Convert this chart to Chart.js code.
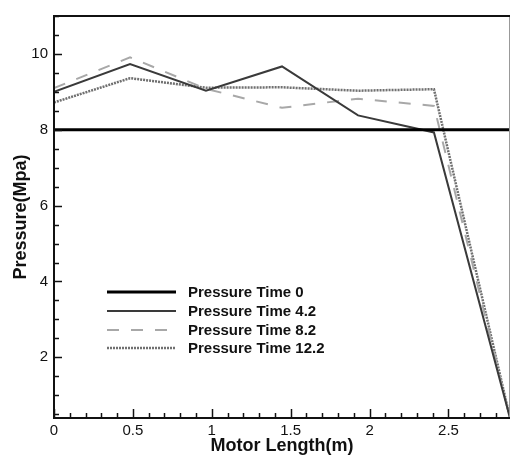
<!DOCTYPE html>
<html>
<head>
<meta charset="utf-8">
<script src="https://cdn.jsdelivr.net/npm/chart.js@4"></script>
<style>
  body { margin: 0; background: #fff; }
  #wrap { width: 511px; height: 455px; }
</style>
</head>
<body>
<div id="wrap"><canvas id="chart" width="511" height="455"></canvas></div>
<script>
// datos
const motorLength = [0, 0.482, 0.963, 1.445, 1.927, 2.408, 2.89];
const pressureT0 = [8, 8, 8, 8, 8, 8, 8];
const pressureT42 = [9.0, 9.73, 9.03, 9.67, 8.38, 7.93, 0.4];
const pressureT82 = [9.1, 9.91, 9.08, 8.58, 8.82, 8.63, 0.4];
const pressureT122 = [8.72, 9.36, 9.11, 9.12, 9.03, 9.07, 0.4];
const seriesNames = ["Pressure Time 0", "Pressure Time 4.2", "Pressure Time 8.2", "Pressure Time 12.2"];
const xLabels = [0, 0.5, 1, 1.5, 2, 2.5];
const yLabels = [2, 4, 6, 8, 10];

function toPoints(arr){
  return motorLength.map((x, i) => ({x: x, y: arr[i]}));
}

const near = (v, list) => list.some(l => Math.abs(v - l) < 1e-6);

// marcas hacia dentro + marco
const framePlugin = {
  id: "frame",
  afterDatasetsDraw(chart){
    const ctx = chart.ctx;
    const a = chart.chartArea;
    const xs = chart.scales.x, ys = chart.scales.y;
    ctx.save();
    ctx.strokeStyle = "#111";
    ctx.lineWidth = 1.5;
    xs.ticks.forEach(t => {
      const px = Math.round(xs.getPixelForValue(t.value)) + 0.5;
      const len = near(t.value, xLabels) ? 9 : 5;
      ctx.beginPath();
      ctx.moveTo(px, a.bottom);
      ctx.lineTo(px, a.bottom - len);
      ctx.stroke();
    });
    ys.ticks.forEach(t => {
      const py = Math.round(ys.getPixelForValue(t.value)) + 0.5;
      const len = near(t.value, yLabels) ? 8 : 5;
      ctx.beginPath();
      ctx.moveTo(a.left, py);
      ctx.lineTo(a.left + len, py);
      ctx.stroke();
    });
    // borde derecho gris
    ctx.strokeStyle = "#999";
    ctx.lineWidth = 1;
    ctx.beginPath();
    ctx.moveTo(a.right - 0.5, a.top);
    ctx.lineTo(a.right - 0.5, a.bottom);
    ctx.stroke();
    // ejes y borde superior
    ctx.strokeStyle = "#111";
    ctx.lineWidth = 2;
    ctx.beginPath();
    ctx.moveTo(a.right, a.top);
    ctx.lineTo(a.left, a.top);
    ctx.lineTo(a.left, a.bottom);
    ctx.lineTo(a.right, a.bottom);
    ctx.stroke();
    ctx.restore();
  }
};

// leyenda dentro del area
const legendPlugin = {
  id: "insideLegend",
  afterDatasetsDraw(chart){
    const ctx = chart.ctx;
    const rows = [292, 311, 330, 348];
    ctx.save();
    chart.data.datasets.forEach((ds, i) => {
      const y = rows[i];
      ctx.strokeStyle = ds.borderColor;
      ctx.lineWidth = ds.borderWidth;
      ctx.setLineDash(ds.borderDash || []);
      ctx.beginPath();
      ctx.moveTo(107, y);
      ctx.lineTo(176, y);
      ctx.stroke();
      ctx.setLineDash([]);
      ctx.fillStyle = "#111";
      ctx.font = "bold 15px 'Liberation Sans', Arial, sans-serif";
      ctx.textBaseline = "middle";
      ctx.textAlign = "left";
      ctx.fillText(ds.label, 188, y + 1);
    });
    ctx.restore();
  }
};

const chart = new Chart(document.getElementById("chart"), {
  type: "line",
  data: {
    datasets: [
      {label: seriesNames[0], data: toPoints(pressureT0), borderColor: "#000", borderWidth: 3},
      {label: seriesNames[1], data: toPoints(pressureT42), borderColor: "#3a3a3a", borderWidth: 2},
      {label: seriesNames[2], data: toPoints(pressureT82), borderColor: "#a8a8a8", borderWidth: 2, borderDash: [12, 12]},
      {label: seriesNames[3], data: toPoints(pressureT122), borderColor: "#707070", borderWidth: 2.5, borderDash: [2, 1]}
    ]
  },
  options: {
    responsive: false,
    animation: false,
    devicePixelRatio: 1,
    layout: { padding: { top: 16, right: 1, left: 0, bottom: 0 } },
    elements: { point: { radius: 0 }, line: { tension: 0 } },
    plugins: { legend: { display: false }, tooltip: { enabled: false } },
    scales: {
      x: {
        type: "linear",
        min: 0,
        max: 2.89,
        grid: { display: false, drawTicks: false },
        border: { display: false },
        afterFit: s => { s.height = 37; },
        ticks: {
          stepSize: 0.1,
          autoSkip: false,
          includeBounds: false,
          maxRotation: 0,
          padding: 4,
          color: "#111",
          font: { family: "'Liberation Sans', Arial, sans-serif", size: 15 },
          callback: v => near(v, xLabels) ? String(+v.toFixed(1)) : ""
        },
        title: {
          display: true,
          text: "Motor Length(m)",
          color: "#111",
          padding: { top: 0, bottom: 0 },
          font: { family: "'Liberation Sans', Arial, sans-serif", size: 18, weight: "bold", lineHeight: 1 }
        }
      },
      y: {
        type: "linear",
        min: 0.4,
        max: 11,
        grid: { display: false, drawTicks: false },
        border: { display: false },
        afterFit: s => { s.width = 54; },
        ticks: {
          stepSize: 0.5,
          autoSkip: false,
          includeBounds: false,
          padding: 6,
          color: "#111",
          font: { family: "'Liberation Sans', Arial, sans-serif", size: 15 },
          callback: v => near(v, yLabels) ? String(Math.round(v)) : ""
        },
        title: {
          display: true,
          text: "Pressure(Mpa)",
          color: "#111",
          padding: { top: 12, bottom: 0 },
          font: { family: "'Liberation Sans', Arial, sans-serif", size: 18, weight: "bold", lineHeight: 1 }
        }
      }
    }
  },
  plugins: [framePlugin, legendPlugin]
});
</script>
</body>
</html>
